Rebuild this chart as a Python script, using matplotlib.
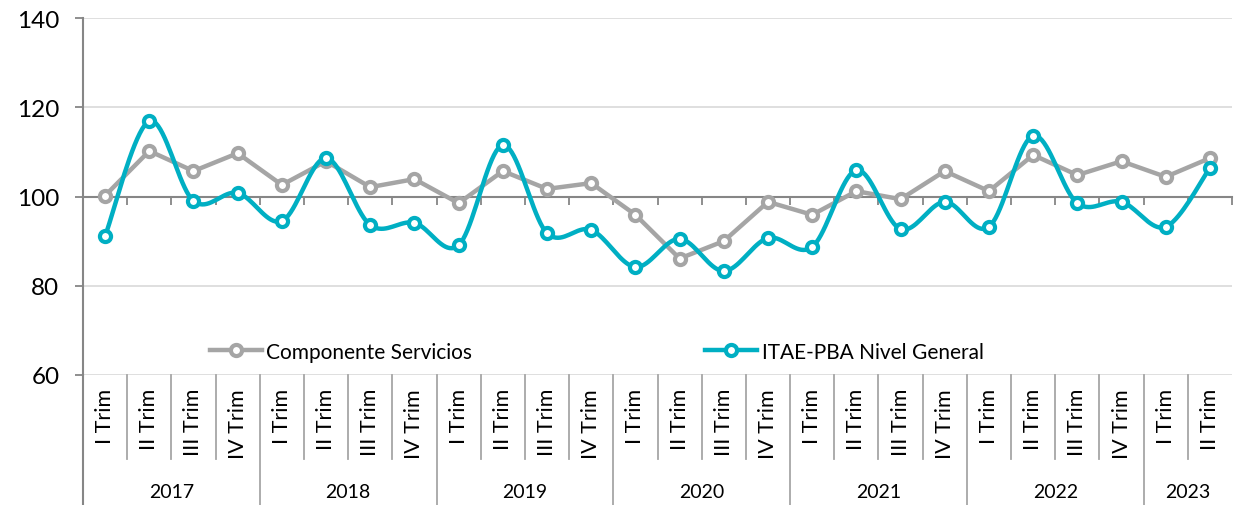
import numpy as np
import matplotlib.pyplot as plt
from matplotlib import transforms

plt.rcParams['font.family'] = ['Lato', 'DejaVu Sans']

# datos
trimestres = ['I Trim', 'II Trim', 'III Trim', 'IV Trim'] * 6 + ['I Trim', 'II Trim']
anios = ['2017', '2018', '2019', '2020', '2021', '2022', '2023']
trim_por_anio = [4, 4, 4, 4, 4, 4, 2]

servicios = [100.2, 110.2, 105.7, 109.7, 102.6, 107.9, 102.1, 103.9,
             98.5, 105.7, 101.7, 103.0, 95.9, 86.1, 90.0, 98.8,
             95.9, 101.2, 99.4, 105.7, 101.2, 109.3, 104.8, 107.9,
             104.4, 108.6]
itae = [91.1, 116.9, 99.0, 100.8, 94.5, 108.6, 93.6, 94.1,
        89.1, 111.5, 91.8, 92.5, 84.2, 90.5, 83.3, 90.7,
        88.7, 105.9, 92.7, 98.8, 93.2, 113.6, 98.5, 98.8,
        93.2, 106.4]

gris = '#A5A5A5'
turq = '#00AFC3'
eje = '#868686'


def suavizar(x, y, n=20):
    # curva tipo Catmull-Rom (linea suavizada de Excel)
    x = np.asarray(x, float)
    y = np.asarray(y, float)
    px = np.concatenate([[x[0]], x, [x[-1]]])
    py = np.concatenate([[y[0]], y, [y[-1]]])
    xs, ys = [], []
    for i in range(1, len(px) - 2):
        p0, p1, p2, p3 = [np.array([px[j], py[j]]) for j in range(i - 1, i + 3)]
        c1 = p1 + (p2 - p0) / 6
        c2 = p2 - (p3 - p1) / 6
        t = np.linspace(0, 1, n, endpoint=(i == len(px) - 3))[:, None]
        pts = (1 - t) ** 3 * p1 + 3 * (1 - t) ** 2 * t * c1 + 3 * (1 - t) * t ** 2 * c2 + t ** 3 * p2
        xs.extend(pts[:, 0])
        ys.extend(pts[:, 1])
    return xs, ys


fig = plt.figure(figsize=(12.36, 5.06), dpi=100)
ax = fig.add_axes([83 / 1236, 130 / 506, 1149 / 1236, 357 / 506])

x = np.arange(len(servicios))

ax.plot(x, servicios, color=gris, lw=3.2, marker='o', ms=8, mfc='white',
        mec=gris, mew=3, label='Componente Servicios', zorder=3)
xs, ys = suavizar(x, itae)
ax.plot(xs, ys, color=turq, lw=3.2, zorder=4)
ax.plot(x, itae, ls='none', marker='o', ms=8, mfc='white', mec=turq, mew=3, zorder=5)
ax.plot([], [], color=turq, lw=3.2, marker='o', ms=8, mfc='white', mec=turq, mew=3,
        label='ITAE-PBA Nivel General')

ax.set_xlim(-0.5, len(x) - 0.5)
ax.set_ylim(60, 140)
ax.set_yticks([60, 80, 100, 120, 140])
ax.yaxis.grid(True, color='#D9D9D9', lw=1.2)
ax.set_axisbelow(True)
ax.tick_params(axis='y', labelsize=17.5, length=6, width=1.3, color=eje, pad=11)

for s in ['top', 'right']:
    ax.spines[s].set_visible(False)
ax.spines['left'].set_color(eje)
ax.spines['left'].set_linewidth(1.5)
ax.spines['bottom'].set_position(('data', 100))
ax.spines['bottom'].set_color(eje)
ax.spines['bottom'].set_linewidth(1.5)
ax.set_xticks(np.arange(len(x) + 1) - 0.5)
ax.set_xticklabels([])
ax.tick_params(axis='x', length=6, width=1.3, color=eje, direction='out')

# etiquetas de categorias en dos niveles
tr = transforms.blended_transform_factory(ax.transData, ax.transAxes)
y_sep_trim = -84 / 357
y_fondo = -130 / 357
for i, t in enumerate(trimestres):
    ax.text(i, -13 / 357, t, transform=tr, rotation=90, ha='center', va='top',
            fontsize=15.5, color='black')
inicio = 0
for k, (a, n) in enumerate(zip(anios, trim_por_anio)):
    ax.text(inicio + (n - 1) / 2, -117 / 357, a, transform=tr, ha='center', va='center',
            fontsize=14, color='black')
    ax.plot([inicio - 0.5, inicio - 0.5], [0, y_fondo], transform=tr, color='#A6A6A6',
            lw=1.3, clip_on=False)
    for j in range(1, n):
        ax.plot([inicio + j - 0.5] * 2, [0, y_sep_trim], transform=tr, color='#A6A6A6',
                lw=1.3, clip_on=False)
    inicio += n
ax.plot([-0.5, -0.5], [0, y_fondo], transform=tr, color=eje, lw=1.5, clip_on=False)

leg = ax.legend(loc='lower center', bbox_to_anchor=(0.447, -0.015), ncol=2, frameon=False,
                fontsize=15, columnspacing=11.2, handlelength=2.5, handletextpad=0.2)

fig.savefig('out.png', dpi=100)
